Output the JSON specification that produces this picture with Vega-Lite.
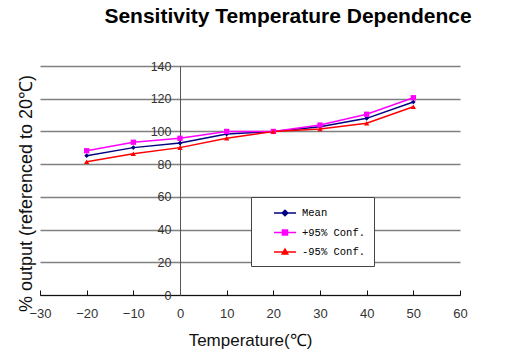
{
  "$schema": "https://vega.github.io/schema/vega-lite/v6.json",
  "width": 420,
  "height": 229,
  "autosize": {"type": "none"},
  "padding": {"left": 40, "top": 66, "right": 46, "bottom": 61},
  "background": "white",
  "title": {
    "text": "Sensitivity Temperature Dependence",
    "font": "Liberation Sans",
    "fontSize": 21,
    "fontWeight": "bold",
    "color": "#000000",
    "anchor": "middle",
    "frame": "group",
    "baseline": "alphabetic",
    "offset": 16.5,
    "dx": 38
  },
  "config": {
    "view": {"stroke": null},
    "font": "Liberation Sans"
  },
  "data": {
    "values": [
      {"temp": -20, "series": "Mean", "value": 85.2},
      {"temp": -10, "series": "Mean", "value": 90.1},
      {"temp": 0, "series": "Mean", "value": 92.9},
      {"temp": 10, "series": "Mean", "value": 98.4},
      {"temp": 20, "series": "Mean", "value": 100},
      {"temp": 30, "series": "Mean", "value": 102.9},
      {"temp": 40, "series": "Mean", "value": 108.0},
      {"temp": 50, "series": "Mean", "value": 118.0},
      {"temp": -20, "series": "+95% Conf.", "value": 88.2},
      {"temp": -10, "series": "+95% Conf.", "value": 93.4},
      {"temp": 0, "series": "+95% Conf.", "value": 95.8},
      {"temp": 10, "series": "+95% Conf.", "value": 100},
      {"temp": 20, "series": "+95% Conf.", "value": 100},
      {"temp": 30, "series": "+95% Conf.", "value": 103.9},
      {"temp": 40, "series": "+95% Conf.", "value": 110.5},
      {"temp": 50, "series": "+95% Conf.", "value": 120.6},
      {"temp": -20, "series": "-95% Conf.", "value": 81.5},
      {"temp": -10, "series": "-95% Conf.", "value": 86.4},
      {"temp": 0, "series": "-95% Conf.", "value": 90.1},
      {"temp": 10, "series": "-95% Conf.", "value": 95.8},
      {"temp": 20, "series": "-95% Conf.", "value": 100},
      {"temp": 30, "series": "-95% Conf.", "value": 101.5},
      {"temp": 40, "series": "-95% Conf.", "value": 105.0},
      {"temp": 50, "series": "-95% Conf.", "value": 115.1}
    ]
  },
  "encoding": {
    "x": {
      "field": "temp",
      "type": "quantitative",
      "scale": {"domain": [-30, 60], "nice": false, "zero": false},
      "axis": {
        "values": [-30, -20, -10, 0, 10, 20, 30, 40, 50, 60],
        "title": "Temperature(℃)",
        "titleFont": "Liberation Sans",
        "titleFontSize": 17,
        "titleFontWeight": "normal",
        "titleColor": "#111111",
        "titleBaseline": "alphabetic",
        "titleY": 50,
        "grid": false,
        "domainColor": "#111111",
        "domainWidth": 1,
        "tickColor": "#111111",
        "tickSize": -5,
        "tickWidth": 1,
        "labelFont": "Liberation Sans",
        "labelFontSize": 13,
        "labelColor": "#333333",
        "labelPadding": 17,
        "labelFlush": false,
        "labelOverlap": false
      }
    },
    "y": {
      "field": "value",
      "type": "quantitative",
      "scale": {"domain": [0, 140], "nice": false},
      "axis": {
        "values": [0, 20, 40, 60, 80, 100, 120, 140],
        "offset": -140,
        "title": "% output (referenced to 20℃)",
        "titleFont": "Liberation Sans",
        "titleFontSize": 18,
        "titleFontWeight": "normal",
        "titleColor": "#111111",
        "titleAngle": 270,
        "titleAlign": "center",
        "titleBaseline": "alphabetic",
        "titleX": -149,
        "titleY": 127,
        "grid": true,
        "gridColor": "#808080",
        "gridWidth": 1.5,
        "ticks": false,
        "domainColor": "#555555",
        "domainWidth": 1,
        "labelFont": "Liberation Sans",
        "labelFontSize": 12.5,
        "labelColor": "#333333",
        "labelPadding": 9,
        "labelFlush": false,
        "labelOverlap": false
      }
    },
    "color": {
      "field": "series",
      "type": "nominal",
      "scale": {
        "domain": ["Mean", "+95% Conf.", "-95% Conf."],
        "range": ["#000080", "#FF00FF", "#FF0000"]
      },
      "legend": {
        "title": null,
        "orient": "none",
        "legendX": 211,
        "legendY": 131,
        "padding": 8,
        "rowPadding": 5.5,
        "fillColor": "white",
        "strokeColor": "#444444",
        "symbolSize": 196,
        "symbolStrokeWidth": 1.5,
        "labelOffset": 27,
        "labelFont": "Liberation Mono",
        "labelFontSize": 10.5,
        "labelColor": "#000000",
        "labelExpr": "datum.label + '\u00a0\u00a0'",
        "encode": {
          "symbols": {
            "update": {
              "shape": {"signal": "datum.value === 'Mean' ? 'M1,0H4.14M2.57,-0.4L2.97,0L2.57,0.4L2.17,0Z' : datum.value === '+95% Conf.' ? 'M1,0H4.14M2.21,-0.36H2.93V0.36H2.21Z' : 'M1,0H4.14M2.57,-0.42L2.97,0.3H2.17Z'"},
              "fill": {"signal": "datum.value === 'Mean' ? '#000080' : datum.value === '+95% Conf.' ? '#FF00FF' : '#FF0000'"},
              "stroke": {"signal": "datum.value === 'Mean' ? '#000080' : datum.value === '+95% Conf.' ? '#FF00FF' : '#FF0000'"},
              "strokeWidth": {"value": 1.5},
              "opacity": {"value": 1},
              "fillOpacity": {"value": 1},
              "strokeOpacity": {"value": 1}
            }
          }
        }
      }
    }
  },
  "layer": [
    {
      "mark": {"type": "line", "strokeWidth": 1.5}
    },
    {
      "transform": [{"filter": "datum.series === 'Mean'"}],
      "mark": {"type": "point", "shape": "diamond", "filled": true, "size": 22, "opacity": 1}
    },
    {
      "transform": [{"filter": "datum.series === '+95% Conf.'"}],
      "mark": {"type": "point", "shape": "square", "filled": true, "size": 28, "opacity": 1}
    },
    {
      "transform": [{"filter": "datum.series === '-95% Conf.'"}],
      "mark": {"type": "point", "shape": "triangle-up", "filled": true, "size": 28, "opacity": 1}
    }
  ]
}
